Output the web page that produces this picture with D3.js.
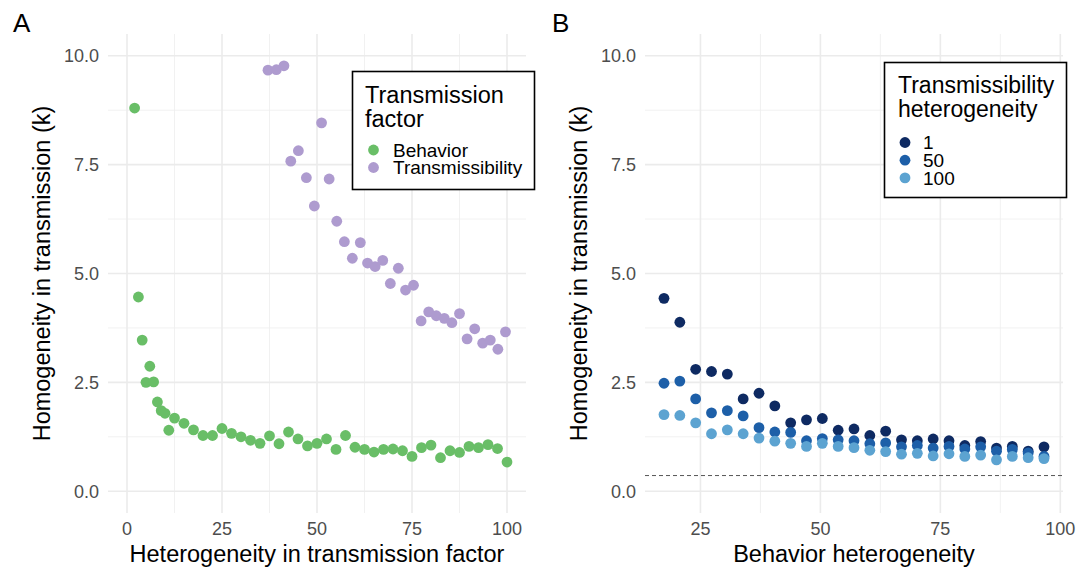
<!DOCTYPE html>
<html>
<head>
<meta charset="utf-8">
<script src="https://cdn.jsdelivr.net/npm/d3@7"></script>
<style>
  html, body { margin: 0; padding: 0; background: #fff; }
  svg { display: block; font-family: "Liberation Sans", Arial, sans-serif; }
</style>
</head>
<body>
<svg id="chart" width="1082" height="573"></svg>
<script>
// Panel A: k against heterogeneity in each transmission factor
const behaviorX = [2, 3, 4, 5, 6, 7, 8, 9, 10, 11, 12.5,
  15, 17.5, 20, 22.5, 25, 27.5, 30, 32.5, 35, 37.5,
  40, 42.5, 45, 47.5, 50, 52.5, 55, 57.5, 60, 62.5,
  65, 67.5, 70, 72.5, 75, 77.5, 80, 82.5, 85, 87.5,
  90, 92.5, 95, 97.5, 100];
const behaviorK = [8.80, 4.46, 3.47, 2.50, 2.87, 2.51, 2.05, 1.85, 1.79, 1.40, 1.68,
  1.56, 1.41, 1.28, 1.28, 1.44, 1.33, 1.25, 1.17, 1.10, 1.27,
  1.09, 1.36, 1.20, 1.04, 1.10, 1.20, 0.96, 1.28, 1.01, 0.96,
  0.90, 0.96, 0.97, 0.93, 0.80, 1.00, 1.06, 0.77, 0.93, 0.89,
  1.03, 1.00, 1.07, 0.98, 0.67];

const transX = [37.1, 39.3, 41.3, 43.1, 45.1, 47.2, 49.3, 51.2, 53.2, 55.2, 57.2,
  59.3, 61.4, 63.3, 65.3, 67.3, 69.3, 71.4, 73.3, 75.4, 77.4, 79.4,
  81.4, 83.5, 85.5, 87.5, 89.5, 91.5, 93.6, 95.6, 97.6, 99.6];
const transK = [9.67, 9.68, 9.77, 7.58, 7.82, 7.20, 6.55, 8.46, 7.17, 6.20, 5.73,
  5.35, 5.71, 5.24, 5.16, 5.30, 4.77, 5.12, 4.62, 4.73, 3.91, 4.12,
  4.03, 3.97, 3.87, 4.08, 3.50, 3.73, 3.40, 3.47, 3.26, 3.66];

const factorLabels = ["Behavior", "Transmissibility"];

// Panel B: k against behavior heterogeneity, one series per transmissibility level
const behaviorHet = [17.4, 20.7, 24.0, 27.3, 30.6, 33.9, 37.2, 40.5, 43.8, 47.1, 50.4,
  53.7, 57.0, 60.3, 63.6, 66.9, 70.2, 73.5, 76.8, 80.1, 83.4, 86.7, 90.0, 93.3, 96.6];
const kTrans1 = [4.43, 3.88, 2.80, 2.75, 2.69, 2.12, 2.25, 1.96, 1.57, 1.64, 1.67,
  1.40, 1.43, 1.28, 1.38, 1.18, 1.16, 1.20, 1.16, 1.05, 1.14, 0.99, 1.03, 0.92, 1.02];
const kTrans50 = [2.48, 2.53, 2.12, 1.80, 1.85, 1.73, 1.46, 1.36, 1.35, 1.16, 1.21,
  1.18, 1.16, 1.09, 1.11, 1.02, 1.05, 0.99, 1.03, 0.97, 1.02, 0.92, 0.96, 0.88, 0.80];
const kTrans100 = [1.76, 1.74, 1.57, 1.32, 1.41, 1.32, 1.22, 1.15, 1.10, 1.03, 1.10,
  1.03, 1.00, 0.94, 0.91, 0.85, 0.87, 0.81, 0.86, 0.80, 0.83, 0.72, 0.80, 0.77, 0.75];
const transLevels = ["1", "50", "100"];
const referenceK = 0.36;

const yTicks = [0, 2.5, 5, 7.5, 10];
const yMinor = [1.25, 3.75, 6.25, 8.75];
const xTicksA = [0, 25, 50, 75, 100];
const xMinorA = [12.5, 37.5, 62.5, 87.5];
const xTicksB = [25, 50, 75, 100];
const xMinorB = [37.5, 62.5, 87.5];

const colGreen = "#69be67", colPurple = "#ae9bcf";
const blues = ["#0e2a62", "#1d5fa8", "#5ca3d1"];

const svg = d3.select("#chart");
const plotTop = 34, plotBottom = 513;
const fmt = d3.format(".1f");

function panel(opts) {
  const g = svg.append("g");
  const x = d3.scaleLinear().domain(opts.xDomain).range([opts.left, opts.right]);
  const y = d3.scaleLinear().domain([-0.5, 10.5]).range([plotBottom, plotTop]);

  // grid
  g.selectAll(".ymin").data(yMinor).join("line")
    .attr("x1", opts.left).attr("x2", opts.right)
    .attr("y1", d => y(d)).attr("y2", d => y(d))
    .attr("stroke", "#ededed").attr("stroke-width", 0.8);
  g.selectAll(".xmin").data(opts.xMinor).join("line")
    .attr("y1", plotTop).attr("y2", plotBottom)
    .attr("x1", d => x(d)).attr("x2", d => x(d))
    .attr("stroke", "#ededed").attr("stroke-width", 0.8);
  g.selectAll(".ymaj").data(yTicks).join("line")
    .attr("x1", opts.left).attr("x2", opts.right)
    .attr("y1", d => y(d)).attr("y2", d => y(d))
    .attr("stroke", "#ebebeb").attr("stroke-width", 1.6);
  g.selectAll(".xmaj").data(opts.xTicks).join("line")
    .attr("y1", plotTop).attr("y2", plotBottom)
    .attr("x1", d => x(d)).attr("x2", d => x(d))
    .attr("stroke", "#ebebeb").attr("stroke-width", 1.6);

  // tick labels
  g.selectAll(".ylab").data(yTicks).join("text")
    .attr("x", opts.left - 9).attr("y", d => y(d)).attr("dy", "0.36em")
    .attr("text-anchor", "end").attr("font-size", 18).attr("fill", "#4d4d4d")
    .text(d => fmt(d));
  g.selectAll(".xlab").data(opts.xTicks).join("text")
    .attr("x", d => x(d)).attr("y", 535)
    .attr("text-anchor", "middle").attr("font-size", 18).attr("fill", "#4d4d4d")
    .text(d => d);

  // axis titles
  g.append("text")
    .attr("x", (opts.left + opts.right) / 2).attr("y", 562)
    .attr("text-anchor", "middle").attr("font-size", 23.5).attr("fill", "#000")
    .text(opts.xTitle);
  g.append("text")
    .attr("transform", `translate(${opts.left - 58},${(plotTop + plotBottom) / 2}) rotate(-90)`)
    .attr("text-anchor", "middle").attr("font-size", 23.5).attr("fill", "#000")
    .text("Homogeneity in transmission (k)");

  // panel tag
  g.append("text")
    .attr("x", opts.tagX).attr("y", 32)
    .attr("font-size", 26).attr("fill", "#000")
    .text(opts.tag);

  return { g, x, y };
}

// ---- Panel A ----
const A = panel({
  left: 108, right: 526, xDomain: [-5, 105],
  xTicks: xTicksA, xMinor: xMinorA,
  xTitle: "Heterogeneity in transmission factor", tag: "A", tagX: 13
});
A.g.selectAll(".beh").data(behaviorX).join("circle")
  .attr("cx", d => A.x(d)).attr("cy", (d, i) => A.y(behaviorK[i]))
  .attr("r", 5.4).attr("fill", colGreen);
A.g.selectAll(".tra").data(transX).join("circle")
  .attr("cx", d => A.x(d)).attr("cy", (d, i) => A.y(transK[i]))
  .attr("r", 5.4).attr("fill", colPurple);

// legend A
const legA = A.g.append("g");
legA.append("rect").attr("x", 352.5).attr("y", 71.5).attr("width", 182).attr("height", 118)
  .attr("fill", "#fff").attr("stroke", "#000").attr("stroke-width", 1.6);
legA.append("text").attr("x", 365).attr("y", 103).attr("font-size", 23.5).text("Transmission");
legA.append("text").attr("x", 365).attr("y", 127).attr("font-size", 23.5).text("factor");
[colGreen, colPurple].forEach((c, i) => {
  legA.append("circle").attr("cx", 373.5).attr("cy", 150 + i * 17.5).attr("r", 5.4).attr("fill", c);
  legA.append("text").attr("x", 393).attr("y", 150 + i * 17.5).attr("dy", "0.36em")
    .attr("font-size", 19).text(factorLabels[i]);
});

// ---- Panel B ----
const B = panel({
  left: 645, right: 1063, xDomain: [13.44, 100.56],
  xTicks: xTicksB, xMinor: xMinorB,
  xTitle: "Behavior heterogeneity", tag: "B", tagX: 552
});
B.g.append("line")
  .attr("x1", 645).attr("x2", 1063)
  .attr("y1", B.y(referenceK)).attr("y2", B.y(referenceK))
  .attr("stroke", "#555").attr("stroke-width", 1).attr("stroke-dasharray", "4,3");
[kTrans1, kTrans50, kTrans100].forEach((ks, s) => {
  B.g.append("g").selectAll("circle").data(behaviorHet).join("circle")
    .attr("cx", d => B.x(d)).attr("cy", (d, i) => B.y(ks[i]))
    .attr("r", 5.4).attr("fill", blues[s]);
});

// legend B
const legB = B.g.append("g");
legB.append("rect").attr("x", 884.5).attr("y", 62.5).attr("width", 182).attr("height", 135)
  .attr("fill", "#fff").attr("stroke", "#000").attr("stroke-width", 1.6);
legB.append("text").attr("x", 898).attr("y", 93).attr("font-size", 23).text("Transmissibility");
legB.append("text").attr("x", 898).attr("y", 117).attr("font-size", 23).text("heterogeneity");
blues.forEach((c, i) => {
  legB.append("circle").attr("cx", 905).attr("cy", 142.5 + i * 17.7).attr("r", 5.4).attr("fill", c);
  legB.append("text").attr("x", 923).attr("y", 142.5 + i * 17.7).attr("dy", "0.36em")
    .attr("font-size", 19).text(transLevels[i]);
});
</script>
</body>
</html>
